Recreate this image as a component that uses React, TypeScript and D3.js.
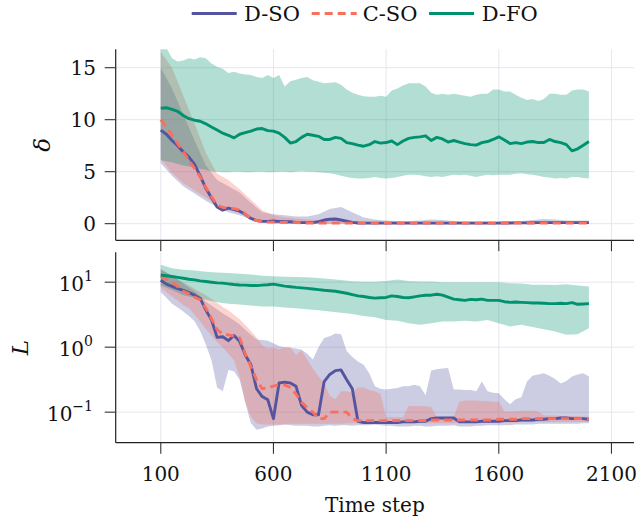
import React from 'react';
import * as d3 from 'd3';

// ---------- data ----------
const T25: number[] = d3.range(100, 2001, 25); // 77 time steps
const T50: number[] = d3.range(100, 2001, 50); // 39 time steps

const seriesNames = ['D-SO', 'C-SO', 'D-FO'];
const xTicks = [100, 600, 1100, 1600, 2100];
const deltaTicks = [0, 5, 10, 15];
const lossTickExps = [-1, 0, 1];

// ---- top panel: delta ----
const dfoDeltaMean = [
  11.1, 11.15, 11.0, 10.8, 10.4, 10.1, 9.95, 9.85, 9.6, 9.3,
  9.0, 8.7, 8.5, 8.25, 8.6, 8.75, 8.9, 9.1, 9.15, 8.95,
  8.9, 8.7, 8.3, 7.75, 7.9, 8.3, 8.6, 8.5, 8.4, 8.1,
  8.1, 8.3, 8.2, 7.8, 7.7, 7.55, 7.45, 7.6, 7.9, 7.75,
  7.8, 7.95, 7.6, 7.95, 8.2, 8.3, 8.35, 8.45, 8.0, 8.3,
  8.15, 7.85, 8.0, 7.85, 7.7, 7.6, 7.55, 7.8, 7.9, 8.1,
  8.35, 8.05, 7.7, 7.8, 7.7, 7.85, 7.9, 7.8, 7.8, 8.1,
  7.9, 7.8, 7.6, 7.0, 7.2, 7.55, 7.9,
];
const dfoDeltaUpper = [
  17.3, 16.9, 15.9, 15.6, 15.7, 15.9, 15.8, 16.0, 15.9, 15.4,
  15.1, 14.9, 14.5, 14.6, 14.45, 14.35, 14.3, 14.1, 14.0, 14.3,
  14.0, 14.3, 13.2, 13.7, 13.85, 14.0, 14.1, 13.8, 13.65, 13.5,
  13.55, 13.6, 13.35, 12.9, 12.6, 12.4, 12.25, 12.2, 12.2, 12.3,
  12.2, 12.8, 13.0, 13.3, 13.5, 13.5, 13.5, 13.2, 12.6, 12.4,
  12.5, 12.4, 12.5, 12.4, 12.3, 12.2, 12.4, 12.5, 12.5, 12.9,
  12.9, 12.7, 12.7, 12.4, 12.1, 11.9, 12.0, 11.8, 12.0, 12.5,
  12.5, 12.4, 12.4, 12.8, 12.9, 12.9, 12.7,
];
const dfoDeltaLower = [
  6.1, 6.0, 5.9, 5.75, 5.6, 5.5, 5.4, 5.25, 5.15, 5.05,
  5.0, 4.95, 4.95, 5.0, 5.0, 4.95, 4.95, 5.0, 5.0, 4.95,
  4.95, 5.0, 5.0, 4.95, 5.0, 5.05, 5.0, 5.0, 4.95, 4.9,
  4.85, 4.75, 4.6, 4.5, 4.4, 4.35, 4.35, 4.4, 4.5, 4.4,
  4.35, 4.4, 4.5, 4.6, 4.7, 4.7, 4.65, 4.55, 4.5, 4.55,
  4.5, 4.6, 4.7, 4.65, 4.7, 4.6, 4.5, 4.6, 4.7, 4.65,
  4.7, 4.7, 4.7, 4.8, 4.85, 4.75, 4.7, 4.6, 4.5, 4.45,
  4.35, 4.4, 4.35, 4.5, 4.5, 4.4, 4.35,
];
const dsoDeltaMean = [
  9.0, 8.6, 8.0, 7.5, 6.9, 6.4, 5.7, 4.6, 3.4, 2.5,
  1.6, 1.3, 1.5, 1.35, 1.2, 0.9, 0.5, 0.3, 0.22, 0.22,
  0.25, 0.22, 0.2, 0.18, 0.12, 0.1, 0.1, 0.1, 0.2, 0.35,
  0.42, 0.45, 0.35, 0.25, 0.12, 0.06, 0.05, 0.05, 0.05, 0.05,
  0.05, 0.05, 0.05, 0.05, 0.05, 0.05, 0.05, 0.05, 0.05, 0.05,
  0.05, 0.05, 0.05, 0.05, 0.05, 0.05, 0.05, 0.05, 0.05, 0.05,
  0.05, 0.06, 0.07, 0.08, 0.08, 0.08, 0.09, 0.1, 0.1, 0.1,
  0.1, 0.1, 0.1, 0.1, 0.1, 0.1, 0.1,
];
const csoDeltaMean = [
  10.0, 9.3, 8.5, 7.7, 6.9, 6.1, 5.3, 4.5, 3.5, 2.6,
  1.8, 1.55, 1.5, 1.45, 1.3, 0.95, 0.5, 0.3, 0.2, 0.15,
  0.15, 0.13, 0.12, 0.11, 0.1, 0.08, 0.06, 0.05, 0.05, 0.05,
  0.05, 0.05, 0.05, 0.05, 0.05, 0.05, 0.05, 0.05, 0.05, 0.05,
  0.05, 0.05, 0.05, 0.05, 0.05, 0.05, 0.05, 0.05, 0.05, 0.05,
  0.05, 0.05, 0.05, 0.05, 0.05, 0.05, 0.05, 0.05, 0.05, 0.05,
  0.05, 0.05, 0.05, 0.05, 0.05, 0.05, 0.05, 0.05, 0.05, 0.05,
  0.05, 0.05, 0.05, 0.05, 0.05, 0.05, 0.05,
];
// bands on T50
const dsoDeltaUpper = [
  15.0, 13.0, 10.5, 8.0, 5.6, 4.2, 3.6, 3.0, 2.0, 1.1,
  0.9, 0.8, 0.7, 0.7, 0.9, 1.4, 1.6, 1.1, 0.6, 0.4,
  0.3, 0.25, 0.25, 0.3, 0.4, 0.35, 0.25, 0.2, 0.2, 0.2,
  0.2, 0.2, 0.25, 0.35, 0.45, 0.4, 0.3, 0.3, 0.3,
];
const dsoDeltaLower = [
  5.8, 4.6, 3.6, 2.9, 2.2, 1.6, 1.1, 0.8, 0.4, 0.15,
  0.02, 0, 0, 0, 0, 0, 0, 0, 0, 0,
  0, 0, 0, 0, 0, 0, 0, 0, 0, 0,
  0, 0, 0, 0, 0, 0, 0, 0, 0,
];
const csoDeltaUpper = [
  16.5, 15.0, 12.3, 9.6, 6.8, 4.8, 4.2, 3.3, 2.3, 1.3,
  0.8, 0.6, 0.5, 0.4, 0.35, 0.3, 0.3, 0.25, 0.2, 0.15,
  0.15, 0.15, 0.15, 0.15, 0.15, 0.15, 0.15, 0.15, 0.15, 0.15,
  0.15, 0.15, 0.15, 0.15, 0.15, 0.15, 0.15, 0.15, 0.15,
];
const csoDeltaLower = [
  6.2, 4.9, 3.9, 3.2, 2.5, 1.9, 1.4, 1.0, 0.6, 0.25,
  0.05, 0, 0, 0, 0, 0, 0, 0, 0, 0,
  0, 0, 0, 0, 0, 0, 0, 0, 0, 0,
  0, 0, 0, 0, 0, 0, 0, 0, 0,
];

// ---- bottom panel: loss, stored as log10(L) ----
const dfoLossMeanLog = [
  1.11, 1.1, 1.087, 1.075, 1.06, 1.045, 1.035, 1.02, 1.01, 1.0,
  0.99, 0.985, 0.975, 0.965, 0.957, 0.955, 0.95, 0.948, 0.955, 0.96,
  0.97, 0.955, 0.94, 0.93, 0.92, 0.913, 0.905, 0.895, 0.885, 0.875,
  0.868, 0.86, 0.845, 0.83, 0.81, 0.79, 0.78, 0.765, 0.755, 0.76,
  0.765, 0.79, 0.78, 0.765, 0.76, 0.775, 0.79, 0.8, 0.8, 0.815,
  0.8, 0.77, 0.74, 0.73, 0.72, 0.735, 0.73, 0.74, 0.72, 0.72,
  0.72, 0.7, 0.69, 0.695, 0.69, 0.685, 0.68, 0.68, 0.675, 0.67,
  0.67, 0.675, 0.67, 0.685, 0.66, 0.665, 0.67,
];
// T50
const dfoLossUpperLog = [
  1.27, 1.215, 1.19, 1.18, 1.16, 1.15, 1.14, 1.13, 1.12, 1.1,
  1.09, 1.085, 1.08, 1.075, 1.065, 1.05, 1.035, 1.015, 1.005, 1.005,
  1.02, 1.04, 1.02, 1.01, 1.01, 1.0, 1.0, 1.0, 1.0, 1.0,
  1.0, 0.985, 0.98, 0.96, 0.96, 0.955, 0.97, 0.95, 0.935,
];
const dfoLossLowerLog = [
  0.95, 0.88, 0.8, 0.76, 0.73, 0.69, 0.67, 0.655, 0.64, 0.626,
  0.626, 0.61, 0.6, 0.585, 0.57, 0.55, 0.53, 0.51, 0.48, 0.46,
  0.42, 0.405, 0.37, 0.344, 0.37, 0.395, 0.395, 0.405, 0.395, 0.42,
  0.37, 0.318, 0.344, 0.31, 0.277, 0.24, 0.19, 0.2, 0.29,
];
// T25
const dsoLossMeanLog = [
  1.03, 0.97, 0.935, 0.9, 0.875, 0.84, 0.8, 0.75, 0.57, 0.42,
  0.15, 0.16, 0.1, 0.18, 0.09, -0.12, -0.27, -0.64, -0.76, -0.81,
  -1.1, -0.55, -0.54, -0.55, -0.6, -0.9, -1.0, -1.04, -1.04, -0.53,
  -0.42, -0.36, -0.35, -0.5, -0.64, -1.14, -1.16, -1.16, -1.16, -1.16,
  -1.16, -1.16, -1.16, -1.15, -1.15, -1.15, -1.14, -1.14, -1.1, -1.09,
  -1.09, -1.09, -1.09, -1.15, -1.15, -1.15, -1.15, -1.14, -1.14, -1.14,
  -1.14, -1.13, -1.13, -1.13, -1.12, -1.12, -1.12, -1.11, -1.11, -1.1,
  -1.1, -1.09, -1.09, -1.1, -1.1, -1.1, -1.11,
];
const csoLossMeanLog = [
  1.087, 1.05, 1.0, 0.93, 0.86, 0.82, 0.77, 0.73, 0.6, 0.44,
  0.27, 0.2, 0.19, 0.17, 0.14, -0.1, -0.3, -0.5, -0.64, -0.62,
  -0.6, -0.58, -0.58, -0.62, -0.72, -0.85, -0.93, -1.0, -1.1, -1.1,
  -1.0, -1.0, -1.0, -1.0, -1.1, -1.13, -1.13, -1.13, -1.13, -1.13,
  -1.13, -1.13, -1.13, -1.13, -1.13, -1.13, -1.13, -1.13, -1.12, -1.12,
  -1.12, -1.12, -1.12, -1.12, -1.12, -1.12, -1.12, -1.12, -1.12, -1.12,
  -1.11, -1.11, -1.11, -1.11, -1.1, -1.1, -1.1, -1.1, -1.1, -1.1,
  -1.1, -1.1, -1.1, -1.1, -1.1, -1.1, -1.1,
];
const dsoLossUpperLog = [
  1.2, 1.15, 1.1, 1.04, 0.98, 0.92, 0.86, 0.79, 0.7, 0.64,
  0.58, 0.52, 0.47, 0.41, 0.35, 0.27, 0.19, 0.12, 0.11, 0.1,
  0.06, 0.02, 0.0, -0.01, -0.02, -0.04, -0.1, -0.19, 0.0, 0.14,
  0.17, 0.21, 0.2, -0.06, -0.15, -0.22, -0.27, -0.4, -0.6, -0.64,
  -0.65, -0.64, -0.63, -0.6, -0.6, -0.58, -0.6, -0.74, -0.36, -0.34,
  -0.33, -0.32, -0.65, -0.65, -0.66, -0.66, -0.68, -0.53, -0.68, -0.7,
  -0.71, -0.8, -0.88, -0.8, -0.77, -0.53, -0.44, -0.42, -0.4, -0.44,
  -0.49, -0.56, -0.52, -0.45, -0.42, -0.4, -0.45,
];
const dsoLossLowerLog = [
  0.85, 0.76, 0.67, 0.61, 0.55, 0.48, 0.4, 0.25, 0.04, -0.2,
  -0.62, -0.68, -0.35, -0.37, -0.5, -0.85, -1.17, -1.27, -1.25, -1.22,
  -1.21, -1.2, -1.19, -1.2, -1.21, -1.21, -1.21, -1.22, -1.22, -1.21,
  -1.2, -1.21, -1.2, -1.2, -1.21, -1.2, -1.2, -1.2, -1.19, -1.2,
  -1.21, -1.21, -1.22, -1.22, -1.22, -1.21, -1.21, -1.22, -1.22, -1.21,
  -1.21, -1.21, -1.2, -1.22, -1.22, -1.22, -1.21, -1.21, -1.2, -1.2,
  -1.2, -1.2, -1.2, -1.19, -1.19, -1.19, -1.19, -1.18, -1.18, -1.18,
  -1.18, -1.18, -1.18, -1.18, -1.18, -1.17, -1.17,
];
const csoLossUpperLog = [
  1.2, 1.15, 1.1, 1.05, 1.0, 0.95, 0.9, 0.85, 0.8, 0.74,
  0.68, 0.62, 0.57, 0.5, 0.43, 0.34, 0.25, 0.15, 0.03, -0.02,
  -0.01, -0.03, 0.0, 0.0, -0.12, -0.05, -0.19, -0.33, -0.45, -0.55,
  -0.75, -0.8, -0.68, -0.68, -0.7, -0.62, -0.62, -0.66, -0.68, -0.72,
  -1.08, -1.08, -1.08, -1.08, -0.9, -0.91, -0.91, -0.91, -0.92, -1.08,
  -1.08, -1.08, -1.07, -0.84, -0.82, -0.82, -0.82, -0.83, -0.83, -0.84,
  -0.84, -0.99, -0.99, -0.99, -0.98, -0.98, -0.98, -0.99, -1.05, -1.05,
  -1.05, -1.06, -1.06, -1.06, -1.06, -1.07, -1.07,
];
const csoLossLowerLog = [
  0.92, 0.85, 0.78, 0.72, 0.65, 0.6, 0.5, 0.4, 0.28, 0.18,
  0.08, 0.0, -0.1, -0.2, -0.45, -0.85, -1.07, -1.17, -1.19, -1.19,
  -1.19, -1.19, -1.19, -1.18, -1.18, -1.18, -1.18, -1.18, -1.18, -1.18,
  -1.18, -1.18, -1.18, -1.17, -1.17, -1.17, -1.17, -1.17, -1.17, -1.17,
  -1.17, -1.17, -1.17, -1.17, -1.17, -1.17, -1.17, -1.17, -1.17, -1.17,
  -1.17, -1.17, -1.17, -1.16, -1.16, -1.16, -1.16, -1.16, -1.16, -1.16,
  -1.16, -1.16, -1.16, -1.16, -1.15, -1.15, -1.15, -1.15, -1.15, -1.15,
  -1.15, -1.15, -1.15, -1.15, -1.15, -1.15, -1.15,
];

// ---------- styling ----------
const COLORS = { dso: '#55559f', cso: '#fa6e5e', dfo: '#00916e' };
const FONT = "'DejaVu Serif', serif";
const GRID = '#e6e6ef';
const BAND_OPACITY = 0.3;

const W = 639;
const H = 525;
const LEFT = 115.7;
const RIGHT = 634;
const TOP1 = 49.3;
const BOT1 = 240.3;
const TOP2 = 252.3;
const BOT2 = 442.7;
const TICK = 11;
const LW = 2.9;

export default function App() {
  const x = d3.scaleLinear().domain([-100, 2200]).range([LEFT, RIGHT]);
  const yTop = d3.scaleLinear().domain([-1.6, 16.77]).range([BOT1, TOP1]);
  const yBot = d3.scaleLog().domain([Math.pow(10, -1.47), Math.pow(10, 1.46)]).range([BOT2, TOP2]);

  const areaPath = (T: number[], lo: number[], hi: number[], y: (v: number) => number, tf: (v: number) => number) =>
    d3.area<number>()
      .x((_, i) => x(T[i]))
      .y0((_, i) => y(tf(lo[i])))
      .y1((_, i) => y(tf(hi[i])))(T) || '';
  const linePath = (T: number[], vals: number[], y: (v: number) => number, tf: (v: number) => number) =>
    d3.line<number>()
      .x((_, i) => x(T[i]))
      .y((_, i) => y(tf(vals[i])))(T) || '';

  const id = (v: number) => v;
  const p10 = (v: number) => Math.pow(10, v);

  const topBands = [
    { d: areaPath(T50, dsoDeltaLower, dsoDeltaUpper, yTop, id), c: COLORS.dso },
    { d: areaPath(T50, csoDeltaLower, csoDeltaUpper, yTop, id), c: COLORS.cso },
    { d: areaPath(T25, dfoDeltaLower, dfoDeltaUpper, yTop, id), c: COLORS.dfo },
  ];
  const topLines = [
    { d: linePath(T25, dsoDeltaMean, yTop, id), c: COLORS.dso, dash: undefined },
    { d: linePath(T25, csoDeltaMean, yTop, id), c: COLORS.cso, dash: '8 5' },
    { d: linePath(T25, dfoDeltaMean, yTop, id), c: COLORS.dfo, dash: undefined },
  ];
  const botBands = [
    { d: areaPath(T25, dsoLossLowerLog, dsoLossUpperLog, yBot, p10), c: COLORS.dso },
    { d: areaPath(T25, csoLossLowerLog, csoLossUpperLog, yBot, p10), c: COLORS.cso },
    { d: areaPath(T50, dfoLossLowerLog, dfoLossUpperLog, yBot, p10), c: COLORS.dfo },
  ];
  const botLines = [
    { d: linePath(T25, dsoLossMeanLog, yBot, p10), c: COLORS.dso, dash: undefined },
    { d: linePath(T25, csoLossMeanLog, yBot, p10), c: COLORS.cso, dash: '8 5' },
    { d: linePath(T25, dfoLossMeanLog, yBot, p10), c: COLORS.dfo, dash: undefined },
  ];

  const legendItems = [
    { name: seriesNames[0], c: COLORS.dso, dash: undefined, x0: 191.7, tx: 244 },
    { name: seriesNames[1], c: COLORS.cso, dash: '8 5', x0: 311.7, tx: 362.7 },
    { name: seriesNames[2], c: COLORS.dfo, dash: undefined, x0: 429, tx: 481.7 },
  ];

  const panelGrid = (top: number, bot: number, yTicksPx: number[]) => (
    <g>
      {xTicks.map((t) => (
        <line key={'v' + t} x1={x(t)} x2={x(t)} y1={top} y2={bot} stroke={GRID} strokeWidth={1} />
      ))}
      {yTicksPx.map((py, i) => (
        <line key={'h' + i} x1={LEFT} x2={RIGHT} y1={py} y2={py} stroke={GRID} strokeWidth={1} />
      ))}
    </g>
  );

  const spines = (top: number, bot: number) => (
    <g>
      <line x1={LEFT} x2={LEFT} y1={top} y2={bot} stroke="#222" strokeWidth={1.2} />
      <line x1={LEFT} x2={RIGHT} y1={bot} y2={bot} stroke="#222" strokeWidth={1.2} />
      {xTicks.map((t) => (
        <line key={'xt' + t} x1={x(t)} x2={x(t)} y1={bot} y2={bot + TICK} stroke="#333" strokeWidth={1.1} />
      ))}
    </g>
  );

  return (
    <svg width={W} height={H} style={{ position: 'absolute', left: 0, top: 0, background: '#fff' }} fontFamily={FONT}>
      <defs>
        <clipPath id="clipTop"><rect x={LEFT} y={TOP1} width={RIGHT - LEFT} height={BOT1 - TOP1} /></clipPath>
        <clipPath id="clipBot"><rect x={LEFT} y={TOP2} width={RIGHT - LEFT} height={BOT2 - TOP2} /></clipPath>
      </defs>
      <rect x={0} y={0} width={W} height={H} fill="#fff" />

      {/* legend */}
      {legendItems.map((it) => (
        <g key={it.name}>
          <line x1={it.x0} x2={it.x0 + 45} y1={13.5} y2={13.5} stroke={it.c} strokeWidth={3.2} strokeDasharray={it.dash} />
          <text x={it.tx} y={20.5} fontSize={21} fill="#111">{it.name}</text>
        </g>
      ))}

      {/* top panel */}
      {panelGrid(TOP1, BOT1, deltaTicks.map((v) => yTop(v)))}
      <g clipPath="url(#clipTop)">
        {topBands.map((b, i) => (
          <path key={i} d={b.d} fill={b.c} fillOpacity={BAND_OPACITY} stroke="none" />
        ))}
        {topLines.map((l, i) => (
          <path key={i} d={l.d} fill="none" stroke={l.c} strokeWidth={LW} strokeDasharray={l.dash} strokeLinejoin="round" />
        ))}
      </g>
      {spines(TOP1, BOT1)}
      {deltaTicks.map((v) => (
        <g key={'dt' + v}>
          <line x1={LEFT - TICK} x2={LEFT} y1={yTop(v)} y2={yTop(v)} stroke="#333" strokeWidth={1.1} />
          <text x={96} y={yTop(v)} dy="0.36em" textAnchor="end" fontSize={20} fill="#111">{v}</text>
        </g>
      ))}
      <text transform={`translate(50,${(TOP1 + BOT1) / 2}) rotate(-90)`} textAnchor="middle" fontSize={23} fontStyle="italic" fill="#111">δ</text>

      {/* bottom panel */}
      {panelGrid(TOP2, BOT2, lossTickExps.map((e) => yBot(Math.pow(10, e))))}
      <g clipPath="url(#clipBot)">
        {botBands.map((b, i) => (
          <path key={i} d={b.d} fill={b.c} fillOpacity={BAND_OPACITY} stroke="none" />
        ))}
        {botLines.map((l, i) => (
          <path key={i} d={l.d} fill="none" stroke={l.c} strokeWidth={LW} strokeDasharray={l.dash} strokeLinejoin="round" />
        ))}
      </g>
      {spines(TOP2, BOT2)}
      {lossTickExps.map((e) => {
        const py = yBot(Math.pow(10, e));
        return (
          <g key={'lt' + e}>
            <line x1={LEFT - TICK} x2={LEFT} y1={py} y2={py} stroke="#333" strokeWidth={1.1} />
            <text x={93} y={py} dy="0.45em" textAnchor="end" fontSize={20} fill="#111">
              10<tspan fontSize={14} dy="-0.75em">{e < 0 ? '\u2212' + Math.abs(e) : String(e)}</tspan>
            </text>
          </g>
        );
      })}
      <text transform={`translate(28,${(TOP2 + BOT2) / 2}) rotate(-90)`} textAnchor="middle" fontSize={23} fontStyle="italic" fill="#111">L</text>

      {/* x tick labels */}
      {xTicks.map((t) => (
        <text key={'xl' + t} x={x(t)} y={481} textAnchor="middle" fontSize={20} fill="#111">{t}</text>
      ))}
      <text x={(LEFT + RIGHT) / 2} y={512} textAnchor="middle" fontSize={20} fill="#111">Time step</text>
    </svg>
  );
}
